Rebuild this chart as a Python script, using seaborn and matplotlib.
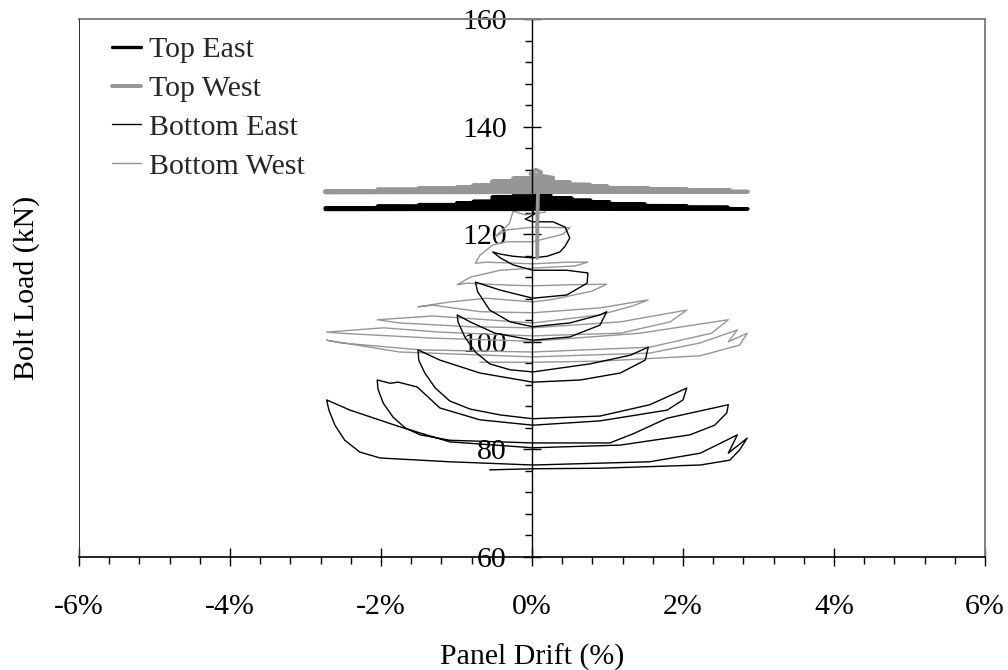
import matplotlib
matplotlib.use("Agg")
import matplotlib.pyplot as plt
import pandas as pd
import seaborn as sns
from matplotlib.ticker import MultipleLocator, FuncFormatter

# ---------------- data (drift in %, load in kN) ----------------
top_east_drift = [0.00, 0.25, -0.25, 0.25, -0.53, 0.53, -0.53, 0.78, -0.78, 1.03, -1.00, 1.50, -1.50,
                  2.05, -2.05, 2.60, -2.74, 2.86, -2.74, 0.00]
top_east_load = [127.4, 127.3, 127.2, 127.0, 126.9, 126.7, 126.5, 126.3, 126.1, 126.0, 125.8, 125.6, 125.5,
                 125.3, 125.2, 125.0, 124.9, 124.7, 124.6, 124.6]

top_west_drift = [0.07, 0.07, 0.08, 0.07, 0.12, 0.05, -0.02, 0.28, -0.25, 0.28, -0.53, 0.50, -0.53, 0.77,
                  -0.78, 1.00, -1.00, 1.54, -1.51, 2.05, -2.05, 2.62, -2.74, 2.86, -2.74, 0.00]
top_west_load = [115.6, 122.0, 128.0, 130.5, 131.5, 132.0, 131.2, 130.5, 130.4, 130.2, 129.8, 129.7, 129.5,
                 129.2, 129.1, 128.9, 128.7, 128.6, 128.5, 128.4, 128.3, 128.2, 128.0, 127.9, 127.8, 127.8]

bottom_east_drift = [0.00, 0.09, 0.07, -0.04, 0.03, -0.05, 0.04, -0.09,
                     0.01, 0.28, 0.44, 0.50,
                     0.44, 0.37, 0.20, 0.01, -0.25, -0.42, -0.52,
                     -0.42, -0.25, 0.01, 0.46, 0.74,
                     0.73, 0.46, 0.01, -0.42, -0.75,
                     -0.72, -0.56, -0.29, 0.01, 0.50, 0.90, 0.99,
                     0.90, 0.50, 0.01, -0.49, -0.82, -0.99,
                     -0.98, -0.89, -0.75, -0.56, -0.29, 0.01, 0.77, 1.30, 1.54,
                     1.50, 1.17, 0.64, 0.01, -0.69, -1.22, -1.51,
                     -1.50, -1.42, -1.28, -1.09, -0.82, -0.42, 0.01, 0.90, 1.56, 2.05,
                     2.00, 1.79, 0.90, 0.01, -0.69, -1.22, -1.52, -1.77, -1.88, -2.05,
                     -2.04, -1.97, -1.84, -1.68, -1.48, -1.09, 0.01, 1.03, 1.34, 1.79, 2.60,
                     2.58, 2.42, 2.09, 1.17, 0.01, -1.09, -1.75, -2.41, -2.72,
                     -2.69, -2.61, -2.48, -2.28, -2.01, -1.09, 0.01, 1.56, 2.23, 2.72, 2.60, 2.85,
                     2.75, 2.62, 2.23, 0.90, 0.01, -0.56]
bottom_east_load = [131.9, 130.4, 129.0, 127.7, 126.4, 125.1, 123.8, 122.8,
                    122.3, 122.3, 121.3, 119.3,
                    117.8, 116.7, 115.9, 115.6, 115.9, 116.3, 116.7,
                    115.6, 114.3, 113.3, 113.3, 112.8,
                    110.9, 108.7, 108.1, 109.6, 111.1,
                    109.3, 105.9, 103.7, 102.8, 103.5, 105.0, 105.6,
                    103.1, 100.9, 100.3, 101.6, 103.7, 105.0,
                    103.7, 100.9, 98.1, 95.9, 94.8, 94.4, 95.9, 97.5, 99.0,
                    96.6, 94.2, 92.9, 92.5, 94.2, 96.6, 98.5,
                    96.6, 94.2, 91.4, 89.0, 87.5, 86.4, 85.7, 86.2, 88.3, 91.4,
                    89.2, 87.3, 85.3, 84.5, 85.5, 87.7, 91.6, 92.5, 92.3, 92.9,
                    91.2, 88.6, 86.0, 84.0, 82.7, 81.7, 81.2, 81.2, 82.9, 85.8, 88.3,
                    86.8, 84.5, 82.7, 80.8, 80.3, 81.4, 84.2, 87.3, 89.2,
                    87.3, 84.5, 81.7, 79.5, 78.4, 77.7, 77.1, 77.7, 79.3, 82.7, 79.3, 82.1,
                    79.9, 78.0, 77.1, 76.5, 76.4, 76.2]

bottom_west_drift = [0.01, 0.21, 0.17, -0.09, -0.25, -0.30, -0.49,
                     -0.33, 0.01, 0.50,
                     0.41, 0.01, -0.33, -0.52, -0.69, -0.75,
                     -0.60, -0.20, 0.01, 0.46, 0.74,
                     0.57, 0.01, -0.42, -0.82, -0.99,
                     -0.86, -0.42, 0.01, 0.50, 0.99,
                     0.79, 0.28, 0.01, -0.60, -1.09, -1.51,
                     -1.31, -0.69, 0.01, 0.90, 1.54,
                     1.34, 0.90, 0.01, -0.60, -1.31, -2.05,
                     -1.75, -0.82, 0.01, 1.17, 2.05,
                     1.83, 1.17, 0.01, -1.22, -1.97, -2.72,
                     -2.54, -1.35, 0.01, 1.43, 2.60,
                     2.38, 1.56, 0.01, -1.48, -2.54, -2.72,
                     -1.75, 0.01, 1.56, 2.23, 2.72, 2.60, 2.85,
                     2.75, 2.23, 0.90, 0.01, -0.69]
bottom_west_load = [125.4, 125.1, 124.1, 123.6, 124.3, 122.0, 119.5,
                    120.8, 121.3, 121.2,
                    120.0, 118.6, 118.6, 118.0, 116.1, 114.6,
                    114.8, 114.6, 114.5, 114.8, 114.8,
                    114.1, 113.7, 113.3, 112.0, 110.6,
                    110.9, 110.6, 110.4, 110.6, 110.7,
                    109.4, 107.9, 107.4, 108.1, 107.4, 106.5,
                    106.8, 105.6, 105.4, 106.3, 107.8,
                    106.7, 105.0, 103.5, 104.1, 104.8, 104.1,
                    103.5, 102.8, 102.6, 103.7, 105.9,
                    103.7, 101.6, 101.1, 101.8, 102.6, 101.8,
                    101.6, 100.7, 100.1, 101.6, 104.1,
                    101.6, 99.0, 98.1, 98.5, 99.8, 100.3,
                    98.1, 97.2, 97.9, 99.8, 102.2, 100.0, 101.6,
                    99.4, 97.4, 96.4, 96.2, 96.2]

x_ticks = [-6, -4, -2, 0, 2, 4, 6]
y_ticks = [60, 80, 100, 120, 140, 160]
legend_order = ["Top East", "Top West", "Bottom East", "Bottom West"]

# ---------------- style ----------------
sns.set_theme(style="white")
plt.rcParams["font.family"] = ["Liberation Serif", "DejaVu Serif"]
plt.rcParams["axes.unicode_minus"] = False
FS = 21.5

fig = plt.figure(figsize=(10.08, 6.70), dpi=100)
ax = fig.add_axes([79 / 1008, 1 - 557 / 670, 906 / 1008, 538 / 670])

GRAY = "#969696"
series = [
    ("Bottom West", bottom_west_drift, bottom_west_load, GRAY, 1.0),
    ("Bottom East", bottom_east_drift, bottom_east_load, "black", 1.0),
    ("Top East", top_east_drift, top_east_load, "black", 2.4),
    ("Top West", top_west_drift, top_west_load, GRAY, 2.8),
]
for name, xs, ys, col, lw in series:
    df = pd.DataFrame({"drift": xs, "load": ys})
    sns.lineplot(data=df, x="drift", y="load", sort=False, estimator=None,
                 color=col, linewidth=lw, ax=ax, label=name)

ax.set_xlim(x_ticks[0], x_ticks[-1])
ax.set_ylim(y_ticks[0], y_ticks[-1])
ax.set_xticks(x_ticks)
ax.set_yticks(y_ticks)
ax.xaxis.set_minor_locator(MultipleLocator(0.4))
ax.yaxis.set_minor_locator(MultipleLocator(4))
ax.xaxis.set_major_formatter(FuncFormatter(lambda v, p: f"{v:.0f}%"))
ax.yaxis.set_major_formatter(FuncFormatter(lambda v, p: f"{v:.0f}"))

ax.spines["left"].set_position(("data", 0))
ax.spines["left"].set_color("black")
ax.spines["left"].set_linewidth(1.0)
ax.spines["bottom"].set_color("black")
ax.spines["bottom"].set_linewidth(1.2)
for s in ("top", "right"):
    ax.spines[s].set_color("#808080")
    ax.spines[s].set_linewidth(1.4)
ax.axvline(ax.get_xlim()[0], color="#303030", lw=1.4, zorder=3)

ax.tick_params(axis="both", which="both", colors="black", labelcolor="black",
               top=False, right=False, left=True, bottom=True)
ax.tick_params(axis="x", which="major", direction="inout", length=13, width=1.0,
               pad=20, labelsize=FS)
ax.tick_params(axis="x", which="minor", direction="out", length=5, width=1.0)
ax.tick_params(axis="y", which="major", direction="inout", length=13, width=1.0,
               pad=11.5, labelsize=FS)
ax.tick_params(axis="y", which="minor", direction="out", length=5, width=1.0)

ax.set_xlabel("Panel Drift (%)", fontsize=FS, color="black")
ax.set_ylabel("Bolt Load (kN)", fontsize=FS, color="black")
ax.xaxis.set_label_coords(0.5, (557 - 657) / 538)
ax.xaxis.label.set_va("center")
ax.yaxis.set_label_coords((27 - 79) / 906, 0.5)
ax.yaxis.label.set_va("center")

h, l = ax.get_legend_handles_labels()
hd = dict(zip(l, h))
ax.legend([hd[k] for k in legend_order], legend_order, loc="upper left",
          bbox_to_anchor=(0.036, 0.968), frameon=False, fontsize=FS,
          handlelength=1.0, handletextpad=0.25, labelspacing=0.4,
          borderpad=0, borderaxespad=0)

fig.savefig("out.png", dpi=100)
